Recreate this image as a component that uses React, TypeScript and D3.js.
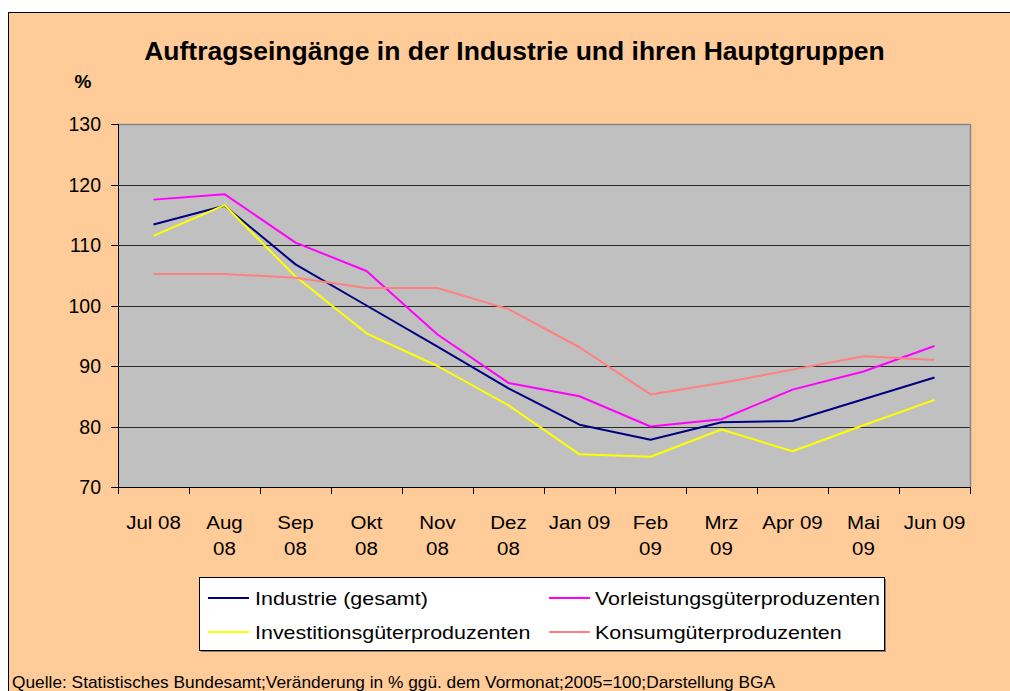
import React from "react";
import * as d3 from "d3";

const categories: string[][] = [
  ["Jul 08"], ["Aug", "08"], ["Sep", "08"], ["Okt", "08"], ["Nov", "08"], ["Dez", "08"],
  ["Jan 09"], ["Feb", "09"], ["Mrz", "09"], ["Apr 09"], ["Mai", "09"], ["Jun 09"],
];
const industrie = [113.4, 116.5, 106.8, 100.0, 93.2, 86.3, 80.3, 77.8, 80.7, 80.9, 84.5, 88.1];
const vorleistung = [117.5, 118.4, 110.4, 105.7, 95.2, 87.2, 85.0, 80.0, 81.2, 86.1, 89.1, 93.3];
const investition = [111.5, 116.6, 104.8, 95.4, 90.0, 83.5, 75.4, 75.0, 79.5, 75.9, 80.2, 84.4];
const konsum = [105.2, 105.2, 104.6, 102.9, 102.9, 99.4, 93.1, 85.3, 87.2, 89.4, 91.6, 91.0];
const seriesNames = ["Industrie (gesamt)", "Vorleistungsgüterproduzenten", "Investitionsgüterproduzenten", "Konsumgüterproduzenten"];
const yTicks = [70, 80, 90, 100, 110, 120, 130];

const title = "Auftragseingänge in der Industrie und ihren Hauptgruppen";
const footer = "Quelle: Statistisches Bundesamt;Veränderung in % ggü. dem Vormonat;2005=100;Darstellung BGA";

const colors = ["#000080", "#FF00FF", "#FFFF00", "#FF8080"];
const FONT = "'Liberation Sans', Arial, Helvetica, sans-serif";

export default function App() {
  const W = 1010, H = 691;
  const left = 118, right = 970, top = 124, bottom = 487;
  const x = d3.scaleBand<number>().domain(d3.range(categories.length)).range([left, right]);
  const y = d3.scaleLinear().domain([70, 130]).range([bottom, top]);
  const data = [industrie, vorleistung, investition, konsum];
  const line = d3.line<number>().x((_, i) => (x(i) as number) + x.bandwidth() / 2).y((v) => y(v));
  const boundaries = d3.range(categories.length + 1).map((i) => left + i * x.step());

  const legendItems = [
    { i: 0, lx: 208, ly: 598, tx: 255, ty: 605 },
    { i: 1, lx: 549, ly: 598, tx: 595, ty: 605 },
    { i: 2, lx: 208, ly: 632, tx: 255, ty: 639 },
    { i: 3, lx: 549, ly: 632, tx: 595, ty: 639 },
  ];

  return (
    <svg width={W} height={H} style={{ position: "absolute", left: 0, top: 0, display: "block", overflow: "hidden", background: "#fff" }} fontFamily={FONT}>
      <rect x={8} y={12} width={W - 8} height={H - 12} fill="#FFCC99" />
      <line x1={8.5} x2={W} y1={12.5} y2={12.5} stroke="#000" />
      <line x1={8.5} x2={8.5} y1={12} y2={H} stroke="#000" />
      <text x={514.5} y={60} textAnchor="middle" fontSize={26.5} fontWeight="bold" fill="#000">{title}</text>
      <text x={83} y={88} textAnchor="middle" fontSize={19} fontWeight="bold" fill="#000">%</text>

      <rect x={left} y={top} width={right - left} height={bottom - top} fill="#C0C0C0" />
      {yTicks.filter((t) => t > 70 && t < 130).map((t) => (
        <line key={t} x1={left} x2={right} y1={Math.round(y(t)) + 0.5} y2={Math.round(y(t)) + 0.5} stroke="#2a2a2a" strokeWidth={1} />
      ))}
      <line x1={left} x2={right} y1={top + 0.5} y2={top + 0.5} stroke="#888" strokeWidth={1.5} />
      <line x1={right + 0.5} x2={right + 0.5} y1={top} y2={bottom} stroke="#888" strokeWidth={1.5} />
      <line x1={left + 0.5} x2={left + 0.5} y1={top} y2={bottom + 1} stroke="#000" strokeWidth={1} />
      <line x1={left} x2={right + 1} y1={bottom + 0.5} y2={bottom + 0.5} stroke="#000" strokeWidth={1} />

      {yTicks.map((t) => (
        <g key={t}>
          <line x1={111} x2={left} y1={Math.round(y(t)) + 0.5} y2={Math.round(y(t)) + 0.5} stroke="#000" />
          <text x={101} y={y(t) + 7} textAnchor="end" fontSize={19.5} fill="#000">{t}</text>
        </g>
      ))}

      {boundaries.map((b, i) => (
        <line key={i} x1={Math.round(b) + 0.5} x2={Math.round(b) + 0.5} y1={bottom} y2={bottom + 7} stroke="#000" />
      ))}
      {categories.map((lines, i) => (
        <g key={i}>
          {lines.map((s, j) => (
            <text key={j} transform={`translate(${(x(i) as number) + x.bandwidth() / 2},${529 + j * 26}) scale(1.08,1)`}
              textAnchor="middle" fontSize={19} fill="#000">{s}</text>
          ))}
        </g>
      ))}

      {data.map((d, i) => (
        <path key={i} d={line(d) || ""} fill="none" stroke={colors[i]} strokeWidth={2} strokeLinejoin="round" />
      ))}

      <rect x={201} y={579} width={685} height={73} fill="#808080" />
      <rect x={199.5} y={577.5} width={685} height={73} fill="#fff" stroke="#000" strokeWidth={1} />
      {legendItems.map((it) => (
        <g key={it.i}>
          <line x1={it.lx} x2={it.lx + 41} y1={it.ly} y2={it.ly} stroke={colors[it.i]} strokeWidth={2} />
          <text transform={`translate(${it.tx},${it.ty}) scale(1.16,1)`} fontSize={18.5} fill="#000">{seriesNames[it.i]}</text>
        </g>
      ))}

      <text x={12} y={688} fontSize={17} fill="#000" textLength={763} lengthAdjust="spacingAndGlyphs">{footer}</text>
    </svg>
  );
}
